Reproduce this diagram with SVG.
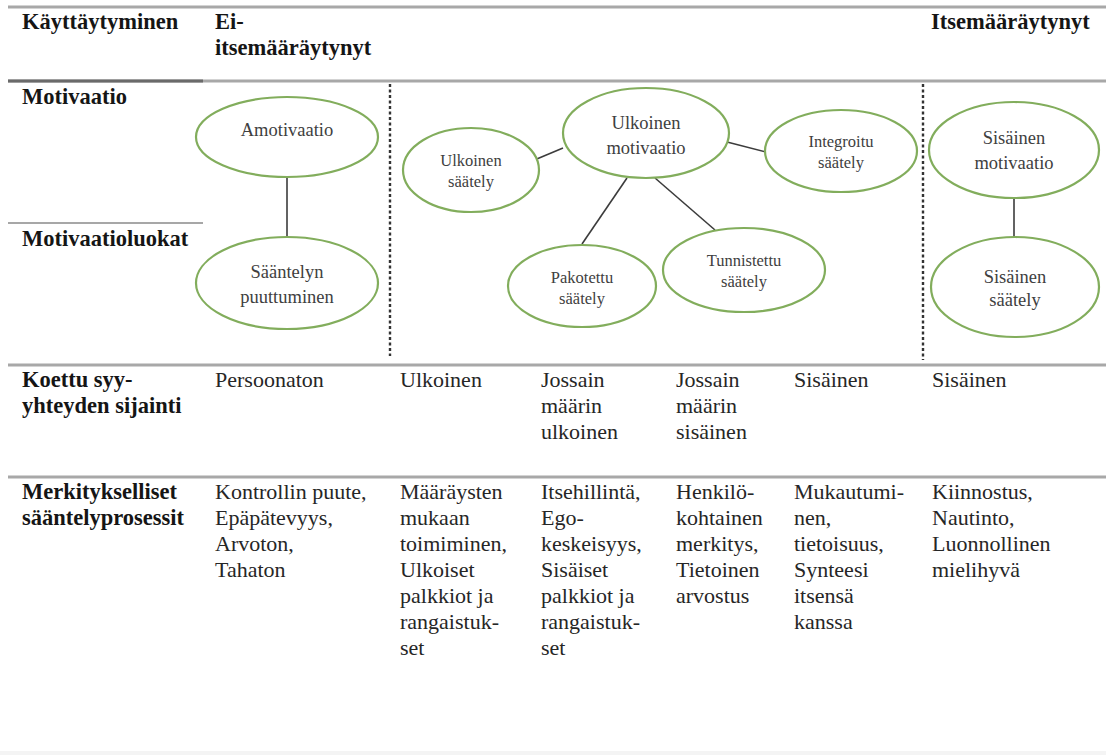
<svg xmlns="http://www.w3.org/2000/svg" width="1106" height="755" viewBox="0 0 1106 755" font-family="'Liberation Serif', 'Times New Roman', Tinos, 'DejaVu Serif', serif">
<style>
text{font-family:'Liberation Serif','Times New Roman',Tinos,'DejaVu Serif',serif}
.b{font-weight:bold;font-size:22.5px;fill:#151515}
.r{font-size:22px;fill:#262626}
.e{fill:#ffffff;stroke:#82ad5c;stroke-width:2.2}
.t{font-size:18.5px;fill:#404040;text-anchor:middle}
.s{font-size:16.5px;fill:#404040;text-anchor:middle}
.c{stroke:#3c3c3c;stroke-width:1.6;fill:none}
.h{stroke:#a8a8a8;stroke-width:3}
.d{stroke:#333333;stroke-width:2.4;stroke-dasharray:3 2.5}
</style>
<rect width="1106" height="755" fill="#ffffff"/>
<rect x="0" y="751" width="1106" height="4" fill="#f4f4f4"/>
<g id="grid">
<line class="h" x1="8" y1="7" x2="1106" y2="7"/>
<line class="h" x1="8" y1="81" x2="1106" y2="81"/>
<line x1="8" y1="81" x2="203" y2="81" stroke="#6a6a6a" stroke-width="3"/>
<line x1="8" y1="223" x2="203" y2="223" stroke="#8a8a8a" stroke-width="1.5"/>
<line class="h" x1="8" y1="365" x2="1106" y2="365"/>
<line class="h" x1="8" y1="477" x2="1106" y2="477"/>
<line class="d" x1="390" y1="84" x2="390" y2="356"/>
<line class="d" x1="923" y1="84" x2="923" y2="360"/>
</g>
<g id="labels">
<text class="b" x="22" y="29">Käyttäytyminen</text>
<text class="b" x="215" y="29">Ei-</text>
<text class="b" x="215" y="55">itsemääräytynyt</text>
<text class="b" x="931" y="29">Itsemääräytynyt</text>
<text class="b" x="22" y="104">Motivaatio</text>
<text class="b" x="22" y="246">Motivaatioluokat</text>
<text class="b" x="22" y="387">Koettu syy-</text>
<text class="b" x="22" y="413">yhteyden sijainti</text>
<text class="b" x="22" y="499">Merkitykselliset</text>
<text class="b" x="22" y="525">sääntelyprosessit</text>
</g>
<g id="row-sijainti">
<text class="r" x="215" y="387">Persoonaton</text>
<text class="r" x="400" y="387">Ulkoinen</text>
<text class="r" x="541" y="387">Jossain</text>
<text class="r" x="541" y="413">määrin</text>
<text class="r" x="541" y="439">ulkoinen</text>
<text class="r" x="676" y="387">Jossain</text>
<text class="r" x="676" y="413">määrin</text>
<text class="r" x="676" y="439">sisäinen</text>
<text class="r" x="794" y="387">Sisäinen</text>
<text class="r" x="932" y="387">Sisäinen</text>
</g>
<g id="row-prosessit">
<text class="r" x="215" y="499">Kontrollin puute,</text>
<text class="r" x="215" y="525">Epäpätevyys,</text>
<text class="r" x="215" y="551">Arvoton,</text>
<text class="r" x="215" y="577">Tahaton</text>
<text class="r" x="400" y="499">Määräysten</text>
<text class="r" x="400" y="525">mukaan</text>
<text class="r" x="400" y="551">toimiminen,</text>
<text class="r" x="400" y="577">Ulkoiset</text>
<text class="r" x="400" y="603">palkkiot ja</text>
<text class="r" x="400" y="629">rangaistuk-</text>
<text class="r" x="400" y="655">set</text>
<text class="r" x="541" y="499">Itsehillintä,</text>
<text class="r" x="541" y="525">Ego-</text>
<text class="r" x="541" y="551">keskeisyys,</text>
<text class="r" x="541" y="577">Sisäiset</text>
<text class="r" x="541" y="603">palkkiot ja</text>
<text class="r" x="541" y="629">rangaistuk-</text>
<text class="r" x="541" y="655">set</text>
<text class="r" x="676" y="499">Henkilö-</text>
<text class="r" x="676" y="525">kohtainen</text>
<text class="r" x="676" y="551">merkitys,</text>
<text class="r" x="676" y="577">Tietoinen</text>
<text class="r" x="676" y="603">arvostus</text>
<text class="r" x="794" y="499">Mukautumi-</text>
<text class="r" x="794" y="525">nen,</text>
<text class="r" x="794" y="551">tietoisuus,</text>
<text class="r" x="794" y="577">Synteesi</text>
<text class="r" x="794" y="603">itsensä</text>
<text class="r" x="794" y="629">kanssa</text>
<text class="r" x="932" y="499">Kiinnostus,</text>
<text class="r" x="932" y="525">Nautinto,</text>
<text class="r" x="932" y="551">Luonnollinen</text>
<text class="r" x="932" y="577">mielihyvä</text>
</g>
<g id="connectors">
<line class="c" x1="287" y1="178" x2="287" y2="237"/>
<line class="c" x1="563" y1="148" x2="532" y2="161"/>
<line class="c" x1="727" y1="142" x2="766" y2="152"/>
<line class="c" x1="627" y1="178" x2="582" y2="244"/>
<line class="c" x1="655" y1="178" x2="715" y2="230"/>
<line class="c" x1="1014" y1="198" x2="1014" y2="237"/>
</g>
<g id="amotivaatio">
<ellipse class="e" cx="287" cy="137" rx="91" ry="40"/>
<text class="t" x="287" y="136">Amotivaatio</text>
</g>
<g id="saantelyn-puuttuminen">
<ellipse class="e" cx="287" cy="283" rx="91" ry="46"/>
<text class="t" x="287" y="278">Sääntelyn</text>
<text class="t" x="287" y="303">puuttuminen</text>
</g>
<g id="ulkoinen-saately">
<ellipse class="e" cx="471" cy="170" rx="68" ry="42"/>
<text class="s" x="471" y="166">Ulkoinen</text>
<text class="s" x="471" y="187">säätely</text>
</g>
<g id="ulkoinen-motivaatio">
<ellipse class="e" cx="646" cy="133" rx="83" ry="45"/>
<text class="t" x="646" y="129">Ulkoinen</text>
<text class="t" x="646" y="154">motivaatio</text>
</g>
<g id="integroitu-saately">
<ellipse class="e" cx="841" cy="151" rx="76" ry="41"/>
<text class="s" x="841" y="147">Integroitu</text>
<text class="s" x="841" y="168">säätely</text>
</g>
<g id="pakotettu-saately">
<ellipse class="e" cx="582" cy="286" rx="74" ry="41"/>
<text class="s" x="582" y="283">Pakotettu</text>
<text class="s" x="582" y="304">säätely</text>
</g>
<g id="tunnistettu-saately">
<ellipse class="e" cx="744" cy="270" rx="81" ry="42"/>
<text class="s" x="744" y="266">Tunnistettu</text>
<text class="s" x="744" y="287">säätely</text>
</g>
<g id="sisainen-motivaatio">
<ellipse class="e" cx="1014" cy="150" rx="85" ry="48"/>
<text class="t" x="1014" y="144">Sisäinen</text>
<text class="t" x="1014" y="169">motivaatio</text>
</g>
<g id="sisainen-saately">
<ellipse class="e" cx="1015" cy="287" rx="84" ry="50"/>
<text class="t" x="1015" y="283">Sisäinen</text>
<text class="t" x="1015" y="306">säätely</text>
</g>
</svg>
